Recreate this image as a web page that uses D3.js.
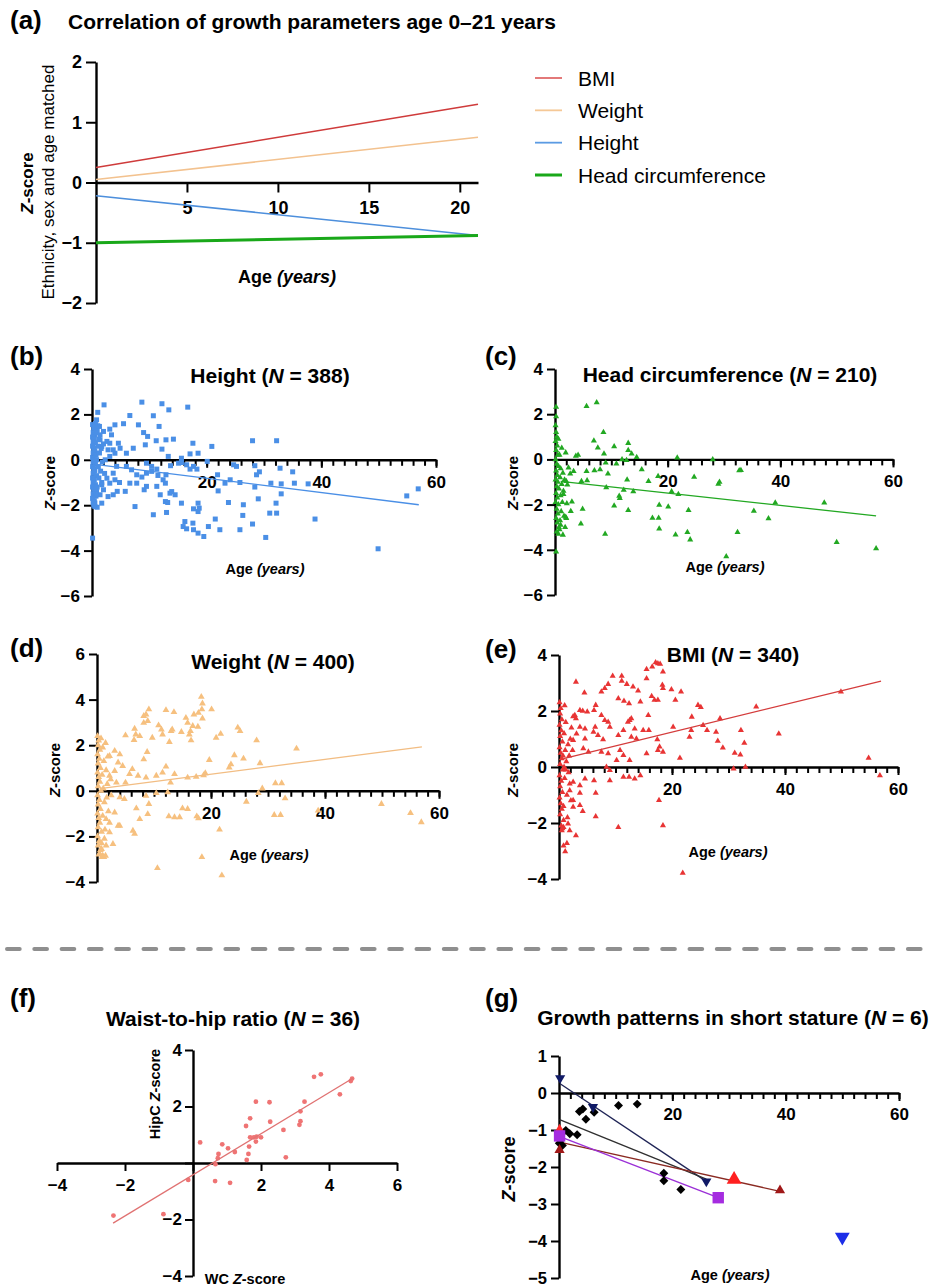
<!DOCTYPE html>
<html><head><meta charset="utf-8">
<script src="https://cdn.jsdelivr.net/npm/d3@7"></script>
<style>body{margin:0;background:#fff}svg{display:block}</style>
</head><body><svg id="c" width="935" height="1288"></svg>
<script>
// ---------------- DATA ----------------
// (a) regression lines, age 0-21
const trendSeries = ["BMI","Weight","Height","Head circumference"];
const trendAges = [0, 21];
const trendStart = [0.25, 0.05, -0.22, -1.0];
const trendEnd = [1.3, 0.75, -0.88, -0.88];
const aYTicks = [-2,-1,0,1,2];
const aXTicks = [5,10,15,20];

const scatterYTicksB = [-6,-4,-2,0,2,4];
const scatterYTicksD = [-4,-2,0,2,4,6];
const scatterYTicksE = [-4,-2,0,2,4];
const ageLabelTicks = [20,40,60];

// (b) Height (age, Z)
const heightPoints = [[2.1,2.42],[1.0,2.09],[0.8,1.76],[8.7,2.54],[12.2,2.47],[13.4,2.2],[16.7,2.32],[6.6,1.95],[10.7,1.94],[8.1,1.54],[11.7,1.47],[5.5,1.59],[4.0,1.54],[3.1,1.35],[9.0,1.2],[9.7,1.03],[3.4,1.1],[11.2,0.84],[12.9,0.88],[14.2,0.91],[17.6,0.73],[20.9,0.59],[12.2,0.47],[9.3,0.66],[7.2,0.51],[4.9,0.51],[6.0,0.29],[17.1,0.26],[18.5,0.29],[15.6,0.07],[13.3,0.15],[28.0,0.84],[32.2,0.84],[20.1,-0.07],[24.7,-0.22],[25.2,-0.29],[28.4,-0.26],[29.2,-0.53],[28.7,-0.66],[32.8,-0.37],[35.0,-0.53],[21.9,-0.66],[24.1,-0.88],[25.8,-1.0],[23.2,-1.03],[22.0,-1.37],[31.2,-1.03],[33.0,-1.06],[35.3,-1.03],[37.7,-1.06],[28.4,-1.2],[33.0,-1.5],[29.0,-1.72],[23.8,-1.88],[26.4,-1.98],[32.1,-1.91],[31.0,-2.35],[32.2,-2.35],[26.3,-2.45],[21.5,-2.61],[20.3,-2.94],[22.3,-3.08],[25.8,-3.08],[28.0,-2.83],[30.3,-3.42],[38.9,-2.61],[49.9,-3.92],[54.9,-1.59],[56.9,-1.28],[0.1,-3.45],[18.5,-1.91],[17.7,-2.16],[18.5,-2.28],[18.7,-2.13],[16.2,-2.72],[17.6,-2.79],[15.9,-2.94],[16.5,-3.04],[17.7,-3.08],[18.5,-3.23],[19.5,-3.38],[15.6,-1.91],[13.0,-2.32],[10.7,-2.42],[7.5,-2.06],[12.8,-1.84],[13.2,-1.88],[14.5,-1.54],[13.6,-1.47],[13.9,-1.4],[11.9,-1.54],[9.1,-1.32],[9.5,-1.17],[11.3,-1.17],[12.8,-1.03],[12.4,-0.88],[11.5,-0.69],[12.9,-0.66],[7.8,-0.66],[8.7,-0.76],[9.5,-0.59],[10.4,-0.51],[11.3,-0.41],[6.6,-1.03],[7.8,-1.03],[4.8,-1.0],[5.8,-1.39],[4.4,-1.39],[2.8,-1.62],[3.7,-1.54],[1.7,-1.91],[0.9,-2.09],[0.5,-2.06],[15.1,-0.15],[13.7,-0.26],[16.5,-0.22],[17.7,-0.29],[18.3,-0.41],[17.1,-0.41],[15.6,-0.12],[9.5,-0.15],[10.4,-0.29],[6.0,-0.29],[6.9,-0.44],[4.3,-0.29],[3.7,-0.59],[2.6,-0.81],[3.1,-1.03],[4.0,-0.88],[1.7,-1.1],[2.0,-1.32],[1.4,-1.54],[0.8,-1.4],[2.3,0.0],[3.1,0.15],[4.0,0.29],[2.8,0.44],[1.7,0.59],[2.6,0.81],[1.4,0.88],[2.0,1.25],[1.3,1.47],[0.5,1.54],[3.1,0.73],[4.6,0.73],[3.7,0.44],
[0.1,1.55],[0.3,1.4],[0.2,1.2],[0.5,1.1],[0.1,1.0],[0.4,0.9],[0.2,0.8],[0.6,0.75],[0.1,0.6],[0.3,0.5],[0.5,0.4],[0.2,0.3],[0.7,0.2],[0.1,0.1],[0.4,0.0],[0.2,-0.1],[0.6,-0.2],[0.1,-0.3],[0.3,-0.4],[0.5,-0.5],[0.2,-0.6],[0.8,-0.7],[0.1,-0.8],[0.4,-0.9],[0.2,-1.0],[0.6,-1.1],[0.1,-1.2],[0.3,-1.3],[0.5,-1.4],[0.2,-1.5],[0.7,-1.6],[0.1,-1.7],[0.4,-1.8],[0.2,-1.9],[0.3,-2.0],[0.9,1.3],[1.0,0.6],[1.1,-0.3],[0.9,-1.2],[1.2,0.9],[1.0,1.5],[1.3,0.3],[1.2,-0.8],[0.8,0.0],[1.5,-0.5],[1.4,1.1],[0.6,1.6],[0.8,1.2],[1.6,0.5],[1.8,-0.1],[1.7,-1.0],[2.0,0.7],[2.2,-0.6],[0.5,-1.9],[0.7,-1.3]];
const heightFit = [[0.5,-0.2],[57,-1.98]];

// (c) Head circumference
const hcPoints = [[5.6,2.35],[7.4,2.52],[8.6,1.2],[6.9,0.82],[7.6,0.52],[10.5,0.57],[13.0,0.72],[13.0,0.4],[13.6,0.25],[14.5,0.1],[8.7,0.25],[1.9,0.3],[3.7,0.15],[4.1,0.19],[5.6,-0.52],[7.0,-0.49],[8.0,-0.45],[9.0,-0.15],[9.4,-0.64],[10.9,-0.19],[11.9,0.0],[12.7,-0.04],[15.4,-0.45],[16.6,-0.97],[18.3,-0.75],[21.7,0.07],[24.7,-0.78],[28.0,0.0],[29.0,-1.09],[29.2,-1.0],[32.7,-0.49],[33.0,-0.48],[20.7,-1.42],[21.9,-1.54],[18.5,-2.02],[20.1,-2.1],[23.7,-2.25],[17.3,-2.59],[18.4,-2.59],[18.5,-3.07],[21.4,-3.33],[23.5,-3.22],[24.0,-3.55],[30.4,-4.3],[32.4,-3.22],[35.3,-2.28],[37.9,-2.62],[39.1,-1.92],[47.8,-1.92],[50.0,-3.67],[57.0,-3.94],[9.1,-1.24],[10.5,-2.05],[11.4,-1.62],[11.5,-1.72],[12.2,-1.35],[13.0,-2.25],[13.9,-1.42],[12.8,-0.9],[8.9,-3.3],[4.6,-2.85],[4.9,-2.2],[3.0,-1.87],[2.8,-2.29],[1.4,-3.34],[1.9,-2.55],[2.1,-1.95],[1.5,-1.54],[2.2,-1.12],[2.0,-0.97],[2.7,-0.64],[2.4,-0.37],[3.3,-0.52],[4.7,-0.97],[5.7,-0.93],[0.2,-4.09],[0.2,2.32],[0.2,1.9],
[0.1,1.5],[0.2,1.2],[0.3,1.0],[0.1,0.8],[0.4,0.6],[0.2,0.4],[0.5,0.2],[0.1,0.0],[0.3,-0.2],[0.6,-0.3],[0.2,-0.5],[0.4,-0.7],[0.1,-0.9],[0.5,-1.0],[0.3,-1.2],[0.7,-1.3],[0.2,-1.5],[0.4,-1.7],[0.1,-1.9],[0.6,-2.0],[0.3,-2.2],[0.5,-2.4],[0.2,-2.6],[0.4,-2.8],[0.7,-3.0],[0.3,-3.2],[0.6,-3.3],[0.8,0.2],[1.0,-0.4],[0.9,-0.8],[1.2,-1.1],[1.0,-1.6],[1.1,-2.3],[0.9,-2.7],[1.3,-1.9],[1.4,-0.6],[1.5,-1.4],[1.6,-2.5],[1.8,-3.0],[0.8,-3.1],[1.2,0.5],[0.6,0.9],[1.0,-2.9],[1.7,-0.9],[2.0,-2.6]];
const hcFit = [[1.0,-0.97],[57,-2.5]];

// (d) Weight
const weightPoints = [[18.3,4.12],[18.5,3.83],[20.1,3.57],[18.4,3.57],[17.8,3.42],[17.0,3.35],[18.5,3.17],[15.6,3.2],[15.9,2.98],[16.8,2.84],[17.7,2.81],[16.4,2.62],[16.2,2.47],[14.8,2.58],[13.5,3.45],[12.1,3.54],[13.2,2.69],[9.1,3.57],[8.6,3.35],[8.2,3.28],[8.9,3.06],[8.2,2.98],[10.8,2.87],[11.3,2.69],[11.5,2.47],[9.7,2.33],[13.0,2.62],[6.6,2.72],[6.8,2.47],[7.5,2.4],[5.0,2.43],[6.5,2.23],[12.7,2.14],[16.5,2.21],[20.9,2.33],[21.7,2.5],[24.7,2.77],[25.1,2.62],[28.0,2.21],[35.0,1.85],[24.1,1.56],[25.7,1.41],[19.7,1.35],[23.5,1.16],[23.2,1.02],[28.6,1.21],[12.1,1.06],[19.0,0.77],[18.7,0.68],[17.4,0.61],[15.9,0.58],[13.6,0.73],[12.9,0.36],[11.5,0.8],[10.4,0.66],[8.6,0.58],[7.2,0.66],[6.2,0.95],[8.2,1.38],[8.8,1.7],[3.1,1.75],[4.0,1.6],[2.2,1.53],[3.7,1.24],[4.5,1.09],[5.7,0.73],[3.1,0.87],[2.2,0.66],[3.4,0.36],[5.0,0.36],[31.3,0.33],[32.4,0.33],[29.0,0.1],[28.3,-0.1],[33.0,-0.33],[26.2,-0.48],[38.8,-0.87],[31.1,-1.06],[32.2,-1.06],[49.9,-0.58],[55.0,-0.98],[56.9,-1.38],[21.5,-1.7],[18.4,-2.91],[21.9,-3.71],[10.6,-3.39],[17.8,-1.21],[17.5,-1.12],[15.9,-0.8],[15.0,-0.77],[13.6,-1.16],[12.6,-1.12],[14.5,-1.16],[7.5,-1.24],[6.3,-1.75],[6.6,-1.89],[8.9,-1.02],[9.1,-0.58],[6.9,-0.77],[4.8,-0.36],[4.0,-0.29],[3.1,-0.95],[3.7,-1.53],[4.0,-1.53],[2.8,-2.33],[1.6,-2.4],[0.5,-2.77],[1.0,-2.84],[0.8,-2.55],[2.2,-1.82],[1.6,-1.24],[10.4,-0.1],[12.4,-0.07],[8.6,-0.22],
[0.1,2.4],[0.3,2.2],[0.2,2.0],[0.5,1.8],[0.1,1.6],[0.4,1.4],[0.2,1.2],[0.6,1.0],[0.1,0.8],[0.3,0.6],[0.5,0.4],[0.2,0.2],[0.7,0.0],[0.1,-0.2],[0.4,-0.4],[0.2,-0.6],[0.6,-0.8],[0.1,-1.0],[0.3,-1.2],[0.5,-1.4],[0.2,-1.6],[0.8,-1.8],[0.1,-2.0],[0.4,-2.2],[0.2,-2.4],[0.6,-2.6],[0.3,-2.8],[0.9,-2.9],[1.2,-2.9],[1.5,-2.85],[1.0,1.9],[1.2,1.3],[0.9,0.7],[1.1,0.1],[1.3,-0.5],[1.0,-1.1],[1.4,-1.7],[0.8,-2.3],[1.6,0.9],[1.8,0.3],[1.7,-0.3],[2.0,-0.9],[1.9,1.5],[2.2,-1.4],[0.7,2.3],[1.5,2.1],[2.4,0.5],[2.5,-0.2],[1.3,-2.1]];
const weightFit = [[0.5,0.1],[57,1.93]];

// (e) BMI
const bmiPoints = [[17.1,3.73],[17.5,3.7],[17.9,3.68],[16.5,3.58],[15.5,3.49],[18.4,3.4],[15.5,3.16],[11.1,3.25],[9.5,3.25],[11.1,3.07],[12.0,2.96],[8.7,2.96],[8.1,2.81],[7.5,2.69],[3.0,3.04],[4.5,2.65],[13.1,2.87],[14.0,2.72],[16.4,2.53],[16.9,2.39],[17.5,2.39],[18.3,2.93],[18.4,2.81],[19.9,2.77],[21.6,2.69],[20.6,2.39],[10.5,2.45],[11.5,2.36],[14.4,2.33],[12.4,2.27],[6.5,2.21],[24.6,2.21],[25.1,2.13],[34.9,2.15],[49.9,2.69],[23.5,1.79],[28.5,1.73],[25.5,1.49],[26.2,1.31],[27.8,1.25],[23.4,1.31],[23.1,1.07],[28.1,0.93],[29.0,0.69],[32.2,1.31],[32.8,0.86],[31.1,0.5],[32.1,0.44],[38.9,1.19],[54.8,0.32],[56.8,-0.3],[33.0,0.0],[30.9,-0.06],[21.4,0.32],[20.2,1.43],[15.9,1.31],[14.9,1.31],[15.8,1.85],[17.4,0.98],[17.8,0.72],[18.4,0.54],[17.5,0.6],[15.5,0.48],[12.8,1.73],[12.5,1.67],[12.2,1.61],[13.4,1.37],[11.4,1.31],[12.8,1.07],[13.7,1.01],[10.5,1.13],[9.0,1.43],[8.1,1.67],[8.7,1.61],[7.5,1.85],[6.4,1.43],[6.1,1.25],[6.9,1.13],[7.8,0.98],[6.2,2.03],[5.0,1.97],[4.2,2.0],[3.7,2.03],[2.8,1.85],[3.0,1.73],[4.6,1.37],[4.6,1.01],[3.7,1.43],[3.1,1.19],[2.5,0.96],[5.2,0.54],[4.3,0.66],[7.5,0.54],[8.7,0.48],[10.8,0.6],[11.4,0.42],[12.5,0.24],[10.2,0.24],[8.4,0.0],[9.0,-0.12],[11.4,-0.36],[12.4,-0.36],[13.4,-0.42],[14.4,-0.3],[9.0,-0.48],[6.2,-0.48],[4.6,-0.42],[3.7,-0.66],[2.5,-0.54],[3.7,-0.93],[6.5,-0.93],[1.9,-0.84],[2.5,-1.19],[3.7,-1.37],[4.2,-1.58],[2.5,-1.43],[6.5,-1.77],[17.7,-1.19],[18.4,-2.09],[10.5,-2.15],[21.9,-3.79],[3.0,-2.45],[1.9,-2.27],[1.6,-2.03],[0.8,-2.15],[0.5,-2.27],[1.4,-2.72],[0.8,-2.81],[1.1,-3.02],
[0.1,2.3],[0.3,2.1],[0.2,1.9],[0.5,1.7],[0.1,1.5],[0.4,1.3],[0.2,1.1],[0.6,0.9],[0.1,0.7],[0.3,0.5],[0.5,0.3],[0.2,0.1],[0.7,-0.1],[0.1,-0.3],[0.4,-0.5],[0.2,-0.7],[0.6,-0.9],[0.1,-1.1],[0.3,-1.3],[0.5,-1.5],[0.2,-1.7],[0.8,-1.9],[0.4,-2.1],[0.6,-2.2],[1.0,2.2],[1.2,1.6],[0.9,1.2],[1.1,0.6],[1.3,0.2],[1.0,-0.4],[1.4,-1.0],[0.8,-1.4],[1.6,0.8],[1.8,0.4],[1.7,-0.2],[2.0,1.0],[1.9,-0.6],[2.2,1.4],[0.7,0.4],[1.5,-1.8],[2.4,0.6],[2.5,1.8],[2.1,-1.2],[1.2,-0.1],[0.9,0.0]];
const bmiFit = [[0.8,0.3],[57,3.07]];

// (f) Waist-to-hip (WC Z, HipC Z)
const whrPoints = [[-2.34,-1.86],[-0.87,-1.81],[-0.14,-0.6],[0.21,0.73],[0.65,-0.64],[0.66,-0.04],[0.73,0.17],[0.75,0.32],[0.86,0.66],[1.03,0.52],[1.09,-0.7],[1.23,0.39],[1.56,1.31],[1.58,0.11],[1.63,0.32],[1.65,0.58],[1.68,1.58],[1.68,0.91],[1.79,0.91],[1.85,2.17],[1.85,0.76],[1.87,0.93],[2.0,0.91],[2.25,2.15],[2.27,1.46],[2.66,1.17],[2.73,0.2],[3.13,1.35],[3.16,1.48],[3.16,1.83],[3.28,2.17],[3.56,3.05],[3.76,3.14],[4.32,2.43],[4.64,2.9],[4.68,2.99]];
const whrFit = [[-2.35,-2.13],[4.7,3.0]];
const whrXTicks = [-4,-2,0,2,4,6];
const whrYTicks = [-4,-2,0,2,4];

// (g) short stature patients
const gDiamonds = [[0.05,-1.36],[0.3,-1.27],[0.6,-1.42],[1.2,-1.01],[1.9,-1.1],[3.2,-1.13],[3.6,-0.5],[4.2,-0.43],[4.75,-0.71],[6.2,-0.52],[10.5,-0.34],[13.8,-0.3],[18.5,-2.17],[18.5,-2.37],[21.5,-2.61]];
const gNavy = [[0.2,0.4],[6.0,-0.38],[26.0,-2.39]];
const gBlue = [[50.0,-3.89]];
const gRedSmall = [[0.1,-0.96]];
const gRed = [[30.9,-2.34]];
const gMaroon = [[0.1,-1.54],[39.0,-2.63]];
const gPurple = [[0.1,-1.16],[28.1,-2.83]];
const gNavyFit = [[0.2,0.25],[26.0,-2.39]];
const gBlackFit = [[0.1,-0.72],[26.0,-2.33]];
const gMaroonFit = [[0.5,-1.34],[39.0,-2.66]];
const gPurpleFit = [[0.5,-1.2],[28.1,-2.83]];
const gYTicks = [-5,-4,-3,-2,-1,0,1];

// ---------------- DRAW ----------------
const FONT = '"Liberation Sans", Arial, Helvetica, sans-serif';
const INT = d3.format("d");
const svg = d3.select("#c");
svg.append("rect").attr("width",935).attr("height",1288).attr("fill","#fff");

function styleAxis(g, fs){
  g.attr("font-family", FONT).attr("font-size", fs).attr("font-weight","bold");
  g.selectAll("path.domain").attr("stroke","#000").attr("stroke-width",2.4);
  g.selectAll(".tick line").attr("stroke","#000").attr("stroke-width",2);
  g.selectAll(".tick text").attr("fill","#000");
  return g;
}
function rich(x, y, parts, o={}){
  const t = svg.append("text").attr("x",x).attr("y",y)
    .attr("font-family",FONT).attr("font-size",o.size||14)
    .attr("font-weight",o.weight||"bold").attr("fill","#000")
    .attr("text-anchor",o.anchor||"middle");
  if(o.rotate) t.attr("transform",`rotate(-90,${x},${y})`);
  parts.forEach(p=>{
    const s = t.append("tspan").text(p[0]);
    if(p[1]) s.attr("font-style","italic");
  });
  return t;
}
function panelLabel(x,y,s){ rich(x,y,[[s]],{size:26,anchor:"start"}); }

// ---- (a) ----
panelLabel(10,29,"(a)");
rich(68,29,[["Correlation of growth parameters age 0–21 years"]],{size:21,anchor:"start"});
{
  const x = d3.scaleLinear().domain([0,21]).range([96,478]);
  const y = d3.scaleLinear().domain([-2,2]).range([303,62]);
  styleAxis(svg.append("g").attr("transform","translate(96,0)")
    .call(d3.axisLeft(y).tickValues(aYTicks).tickFormat(INT).tickSize(10).tickPadding(4).tickSizeOuter(0)),18);
  styleAxis(svg.append("g").attr("transform",`translate(0,${y(0)})`)
    .call(d3.axisBottom(x).tickValues(aXTicks).tickFormat(INT).tickSize(10).tickPadding(9).tickSizeOuter(0)),18);
  const cols = ["#cf3b3b","#f3c28f","#4d8fdc","#19a819"];
  const widths = [1.6,1.6,1.6,3];
  trendSeries.forEach((s,i)=>{
    svg.append("line")
      .attr("x1",x(trendAges[0])).attr("y1",y(trendStart[i]))
      .attr("x2",x(trendAges[1])).attr("y2",y(trendEnd[i]))
      .attr("stroke",cols[i]).attr("stroke-width",widths[i]);
  });
  rich(33,183,[["Z",1],["-score"]],{size:17,rotate:true});
  rich(54,182,[["Ethnicity, sex and age matched"]],{size:17,weight:"normal",rotate:true});
  rich(287,283,[["Age "],["(years)",1]],{size:18});
  // legend
  const legCols = ["#e06a6a","#f5c896","#5b9be3","#19a819"];
  const legY = d3.scalePoint().domain(trendSeries).range([78,175]);
  trendSeries.forEach((s,i)=>{
    svg.append("line").attr("x1",535).attr("x2",562).attr("y1",legY(s)).attr("y2",legY(s))
      .attr("stroke",legCols[i]).attr("stroke-width",i===3?3:1.8);
    svg.append("text").attr("x",578).attr("y",legY(s)+7.5).text(s)
      .attr("font-family",FONT).attr("font-size",21).attr("fill","#000");
  });
}

// ---- scatter panels b-e ----
function scatterPanel(o){
  const x = d3.scaleLinear().domain([0,60]).range([o.x0,o.x1]);
  const y = d3.scaleLinear().domain(o.yDom).range([o.yBot,o.yTop]);
  styleAxis(svg.append("g").attr("transform",`translate(${o.x0},0)`)
    .call(d3.axisLeft(y).tickValues(o.yTicks).tickFormat(INT).tickSize(8).tickPadding(4).tickSizeOuter(0)),17);
  styleAxis(svg.append("g").attr("transform",`translate(0,${y(0)})`)
    .call(d3.axisBottom(x).tickValues(d3.range(2,61,2)).tickSize(6).tickFormat("").tickSizeOuter(0)),17);
  const mj = styleAxis(svg.append("g").attr("transform",`translate(0,${y(0)})`)
    .call(d3.axisBottom(x).tickValues(ageLabelTicks).tickFormat(INT).tickSize(8).tickPadding(8).tickSizeOuter(0)),17);
  mj.select("path.domain").remove();
  svg.append("g").selectAll("path").data(o.pts).join("path")
    .attr("transform",d=>`translate(${x(d[0])},${y(d[1])})`)
    .attr("d",d3.symbol(o.sym,o.size)).attr("fill",o.color);
  svg.append("path").datum(o.fit)
    .attr("d",d3.line().x(d=>x(d[0])).y(d=>y(d[1])))
    .attr("stroke",o.lineColor).attr("stroke-width",1.3).attr("fill","none");
  rich(o.tx,o.ty,[[o.title[0]],["N",1],[o.title[1]]],{size:21});
  rich(o.zx,o.zy,[["Z",1],["-score"]],{size:15,rotate:true});
  rich(o.ax,o.ay,[["Age "],["(years)",1]],{size:14.5});
}
panelLabel(10,365,"(b)");
scatterPanel({x0:92,x1:436,yTop:369,yBot:596,yDom:[-6,4],yTicks:scatterYTicksB,pts:heightPoints,fit:heightFit,
  sym:d3.symbolSquare,size:25,color:"#4a8fe6",lineColor:"#4a8fe6",title:["Height ("," = 388)"],tx:270,ty:383,zx:55,zy:483,ax:265,ay:574});
panelLabel(485,365,"(c)");
scatterPanel({x0:555,x1:893,yTop:369,yBot:595,yDom:[-6,4],yTicks:scatterYTicksB,pts:hcPoints,fit:hcFit,
  sym:d3.symbolTriangle,size:16,color:"#22a822",lineColor:"#22a822",title:["Head circumference ("," = 210)"],tx:730,ty:382,zx:518,zy:483,ax:725,ay:572});
panelLabel(10,657,"(d)");
scatterPanel({x0:97,x1:439,yTop:654,yBot:882,yDom:[-4,6],yTicks:scatterYTicksD,pts:weightPoints,fit:weightFit,
  sym:d3.symbolTriangle,size:20,color:"#f6c07f",lineColor:"#f2bd83",title:["Weight ("," = 400)"],tx:273,ty:669,zx:60,zy:770,ax:269,ay:860});
panelLabel(485,658,"(e)");
scatterPanel({x0:559,x1:898,yTop:655,yBot:879,yDom:[-4,4],yTicks:scatterYTicksE,pts:bmiPoints,fit:bmiFit,
  sym:d3.symbolTriangle,size:16,color:"#e83434",lineColor:"#d43c3c",title:["BMI ("," = 340)"],tx:733,ty:662,zx:518,zy:770,ax:728,ay:857});

// separator
svg.append("line").attr("x1",7).attr("x2",935).attr("y1",949).attr("y2",949)
  .attr("stroke","#8f8f8f").attr("stroke-width",4).attr("stroke-linecap","round")
  .attr("stroke-dasharray","12.7,14.6");

// ---- (f) ----
panelLabel(10,1007,"(f)");
rich(233,1026,[["Waist-to-hip ratio ("],["N",1],[" = 36)"]],{size:21});
{
  const x = d3.scaleLinear().domain([-4,6]).range([57,397]);
  const y = d3.scaleLinear().domain([-4,4]).range([1276,1050]);
  const fmt = d=> d===0?"":INT(d);
  styleAxis(svg.append("g").attr("transform",`translate(${x(0)},0)`)
    .call(d3.axisLeft(y).tickValues(whrYTicks).tickSize(8).tickPadding(3).tickFormat(fmt).tickSizeOuter(0)),17);
  styleAxis(svg.append("g").attr("transform",`translate(0,${y(0)})`)
    .call(d3.axisBottom(x).tickValues(whrXTicks).tickSize(8).tickPadding(8).tickFormat(fmt).tickSizeOuter(0)),17);
  svg.append("g").selectAll("circle").data(whrPoints).join("circle")
    .attr("cx",d=>x(d[0])).attr("cy",d=>y(d[1])).attr("r",2.4).attr("fill","#ef7474");
  svg.append("path").datum(whrFit).attr("d",d3.line().x(d=>x(d[0])).y(d=>y(d[1])))
    .attr("stroke","#e07272").attr("stroke-width",1.3).attr("fill","none");
  rich(160,1094,[["HipC "],["Z",1],["-score"]],{size:14.5,rotate:true});
  rich(245,1284,[["WC "],["Z",1],["-score"]],{size:14.5});
}

// ---- (g) ----
panelLabel(485,1007,"(g)");
rich(733,1025,[["Growth patterns in short stature ("],["N",1],[" = 6)"]],{size:21});
{
  const x = d3.scaleLinear().domain([0,60]).range([559,899]);
  const y = d3.scaleLinear().domain([-5,1]).range([1278,1056]);
  styleAxis(svg.append("g").attr("transform","translate(559,0)")
    .call(d3.axisLeft(y).tickValues(gYTicks).tickFormat(INT).tickSize(8).tickPadding(4).tickSizeOuter(0)),16.5);
  styleAxis(svg.append("g").attr("transform",`translate(0,${y(0)})`)
    .call(d3.axisBottom(x).tickValues(d3.range(2,61,2)).tickSize(6).tickFormat("").tickSizeOuter(0)),17);
  const mj = styleAxis(svg.append("g").attr("transform",`translate(0,${y(0)})`)
    .call(d3.axisBottom(x).tickValues(ageLabelTicks).tickFormat(INT).tickSize(8).tickPadding(7).tickSizeOuter(0)),17);
  mj.select("path.domain").remove();
  const line = d3.line().x(d=>x(d[0])).y(d=>y(d[1]));
  const fits = [[gNavyFit,"#1f2456"],[gBlackFit,"#303030"],[gMaroonFit,"#8a2a22"],[gPurpleFit,"#9b30d6"]];
  fits.forEach(f=>svg.append("path").datum(f[0]).attr("d",line).attr("stroke",f[1]).attr("stroke-width",1.4).attr("fill","none"));
  const mk = (pts,sym,size,color,rot)=>svg.append("g").selectAll("path").data(pts).join("path")
    .attr("transform",d=>`translate(${x(d[0])},${y(d[1])}) rotate(${rot})`)
    .attr("d",d3.symbol(sym,size)).attr("fill",color);
  mk(gDiamonds,d3.symbolSquare,40,"#000",45);
  mk(gMaroon,d3.symbolTriangle,45,"#a01818",0);
  mk(gRedSmall,d3.symbolTriangle,30,"#ff2a2a",0);
  mk(gRed,d3.symbolTriangle,95,"#ff2020",0);
  mk(gNavy,d3.symbolTriangle,45,"#101a66",180);
  mk(gBlue,d3.symbolTriangle,95,"#1c2ee8",180);
  mk(gPurple,d3.symbolSquare,130,"#a52ce0",0);
  rich(515,1169,[["Z",1],["-score"]],{size:18,rotate:true});
  rich(730,1280,[["Age "],["(years)",1]],{size:14.5});
}
</script></body></html>
